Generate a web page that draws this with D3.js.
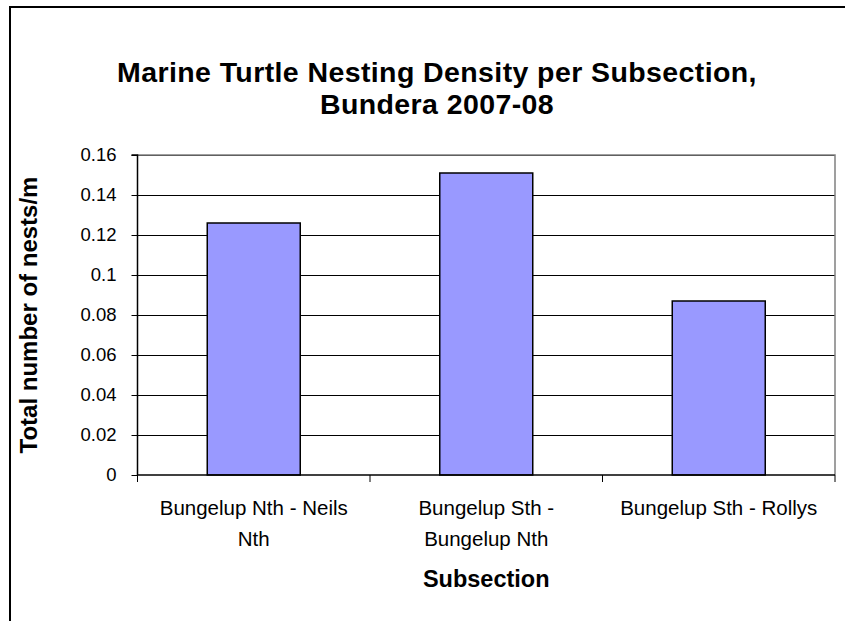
<!DOCTYPE html>
<html>
<head>
<meta charset="utf-8">
<script src="https://cdn.jsdelivr.net/npm/d3@7"></script>
<style>
  html, body { margin: 0; padding: 0; background: #fff; }
  svg { display: block; font-family: "Liberation Sans", Arial, sans-serif; }
</style>
</head>
<body>
<svg id="chart" width="845" height="621"></svg>
<script>
const categories = [["Bungelup Nth - Neils", "Nth"], ["Bungelup Sth -", "Bungelup Nth"], ["Bungelup Sth - Rollys"]];
const values = [0.126, 0.151, 0.087];
const yTicks = [0, 0.02, 0.04, 0.06, 0.08, 0.1, 0.12, 0.14, 0.16];
const titleLines = ["Marine Turtle Nesting Density per Subsection,", "Bundera 2007-08"];
const xTitle = "Subsection";
const yTitle = "Total number of nests/m";

const svg = d3.select("#chart");
const m = { left: 137.5, right: 835, top: 155, bottom: 475 };

// outer frame (extends beyond the view on right/bottom)
svg.append("rect").attr("x", 10).attr("y", 7).attr("width", 900).attr("height", 700)
  .attr("fill", "#fff").attr("stroke", "#000").attr("stroke-width", 2);

const x = d3.scaleBand().domain(d3.range(categories.length)).range([m.left, m.right]).padding(0);
const y = d3.scaleLinear().domain([0, 0.16]).range([m.bottom, m.top]);

// gridlines
svg.append("g").selectAll("line").data(yTicks.filter(d => d > 0)).join("line")
  .attr("x1", m.left).attr("x2", m.right)
  .attr("y1", d => y(d)).attr("y2", d => y(d))
  .attr("stroke", "#000").attr("stroke-width", 1).attr("shape-rendering", "crispEdges");

// plot border right/top (grey)
svg.append("path")
  .attr("d", `M${m.left},${m.top}H${m.right}V${m.bottom}`)
  .attr("fill", "none").attr("stroke", "#808080").attr("stroke-width", 1.5);

// bars
const bw = x.bandwidth() * 0.4;
svg.append("g").selectAll("rect").data(values).join("rect")
  .attr("x", (d, i) => x(i) + (x.bandwidth() - bw) / 2)
  .attr("y", d => y(d))
  .attr("width", bw)
  .attr("height", d => y(0) - y(d))
  .attr("fill", "#9999ff").attr("stroke", "#000").attr("stroke-width", 1.5);

// y axis
const yAxis = d3.axisLeft(y).tickValues(yTicks).tickSize(6).tickPadding(15)
  .tickFormat(d => d3.format("~g")(d));
const gy = svg.append("g").attr("transform", `translate(${m.left},0)`).call(yAxis);
gy.select(".domain").attr("stroke", "#000").attr("stroke-width", 1.5).attr("d", `M-6,${m.top}H0V${m.bottom}`);
gy.selectAll(".tick line").attr("stroke", "#000");
gy.selectAll(".tick text").attr("font-size", 18.5).attr("fill", "#000")
  .attr("font-family", "'Liberation Sans', Arial, sans-serif");

// x axis
const xEdges = d3.range(categories.length + 1).map(i => m.left + i * x.step());
svg.append("line").attr("x1", m.left).attr("x2", m.right).attr("y1", m.bottom).attr("y2", m.bottom)
  .attr("stroke", "#000").attr("stroke-width", 1.5);
svg.append("g").selectAll("line").data(xEdges).join("line")
  .attr("x1", d => d).attr("x2", d => d).attr("y1", m.bottom).attr("y2", m.bottom + 7)
  .attr("stroke", "#000").attr("stroke-width", 1);

const xl = svg.append("g").selectAll("text").data(categories).join("text")
  .attr("x", (d, i) => x(i) + x.bandwidth() / 2)
  .attr("y", 515)
  .attr("text-anchor", "middle").attr("font-size", 20.5).attr("fill", "#000");
xl.selectAll("tspan").data(d => d).join("tspan")
  .attr("x", function () { return d3.select(this.parentNode).attr("x"); })
  .attr("dy", (d, i) => i === 0 ? 0 : 31)
  .text(d => d);

// titles
svg.append("g").selectAll("text").data(titleLines).join("text")
  .attr("x", 437).attr("y", (d, i) => 82 + i * 32)
  .attr("text-anchor", "middle").attr("font-size", 28.5).attr("font-weight", "bold")
  .attr("letter-spacing", 0.4)
  .attr("fill", "#000").text(d => d);

svg.append("text").attr("x", (m.left + m.right) / 2).attr("y", 587)
  .attr("text-anchor", "middle").attr("font-size", 23.5).attr("font-weight", "bold").text(xTitle);

svg.append("text").attr("transform", `translate(37,315) rotate(-90)`)
  .attr("text-anchor", "middle").attr("font-size", 24).attr("font-weight", "bold").text(yTitle);
</script>
</body>
</html>
